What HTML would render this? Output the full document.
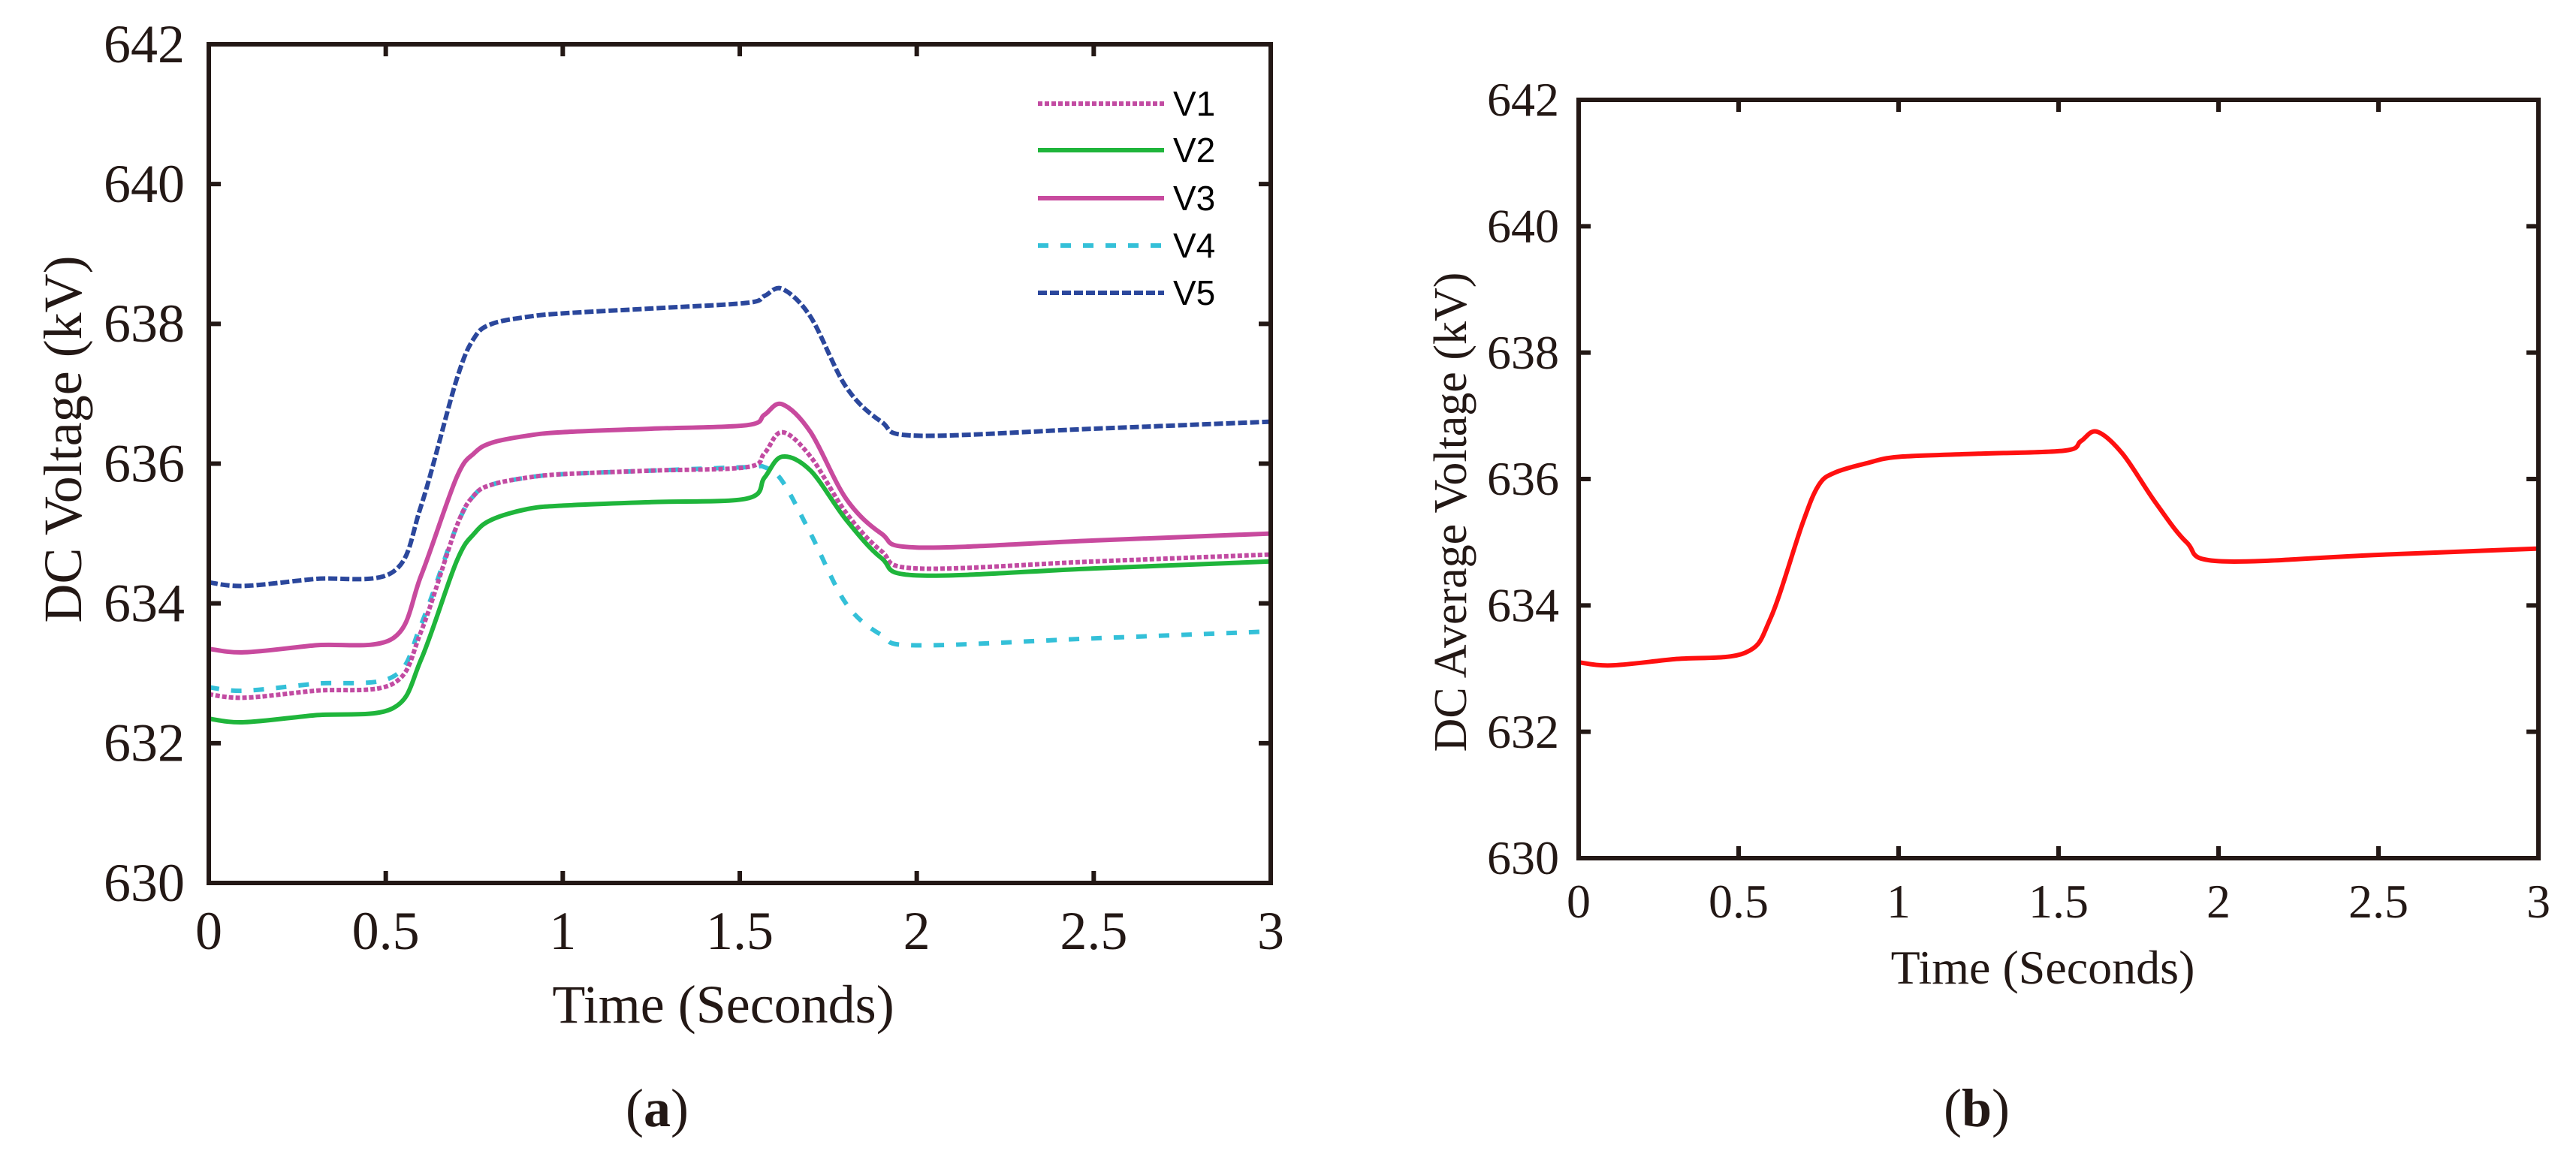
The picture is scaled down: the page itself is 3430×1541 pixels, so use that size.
<!DOCTYPE html>
<html><head><meta charset="utf-8"><style>
html,body{margin:0;padding:0;background:#fff;}
svg{display:block;}
text{font-family:"Liberation Serif",serif;fill:#231815;}
</style></head><body>
<svg id="root" width="3430" height="1541" viewBox="0 0 3430 1541" xmlns="http://www.w3.org/2000/svg">
<g id="ga"></g>
<g id="gb"></g>
</svg>
<script>
const timesA = [0,0.1,0.3,0.52,0.6,0.7,0.75,0.8,0.9,1,1.25,1.52,1.57,1.62,1.7,1.8,1.9,2,2.5,3];
const v1 = [632.7,632.65,632.75,632.85,633.6,635.1,635.55,635.7,635.8,635.85,635.9,635.95,636.15,636.45,636.1,635.3,634.75,634.5,634.6,634.7];
const v2 = [632.35,632.3,632.4,632.5,633.2,634.6,635.0,635.2,635.35,635.4,635.45,635.5,635.8,636.1,635.9,635.2,634.65,634.4,634.5,634.6];
const v3 = [633.35,633.3,633.4,633.5,634.4,635.8,636.15,636.3,636.4,636.45,636.5,636.55,636.7,636.85,636.45,635.5,635.0,634.8,634.9,635.0];
const v4 = [632.8,632.75,632.85,632.95,633.7,635.1,635.55,635.7,635.8,635.85,635.9,635.95,635.95,635.75,635.0,634.0,633.55,633.4,633.5,633.6];
const v5 = [634.3,634.25,634.35,634.45,635.4,637.2,637.8,638.0,638.1,638.15,638.22,638.3,638.4,638.5,638.1,637.1,636.6,636.4,636.5,636.6];
const timesB = [0,0.1,0.3,0.52,0.6,0.7,0.75,0.8,0.9,1,1.25,1.52,1.57,1.62,1.7,1.8,1.9,2,2.5,3];
const vAvg = [633.1,633.05,633.15,633.25,633.8,635.3,635.9,636.1,636.25,636.35,636.4,636.45,636.6,636.75,636.4,635.65,635.0,634.7,634.8,634.9];
const xTicks = [0,0.5,1,1.5,2,2.5,3];
const xTickLabels = ["0","0.5","1","1.5","2","2.5","3"];
const yTicks = [630,632,634,636,638,640,642];
const yTickLabels = ["630","632","634","636","638","640","642"];
const seriesNames = ["V1","V2","V3","V4","V5"];

const NS="http://www.w3.org/2000/svg";
function mk(parent,tag,attrs,txt){const e=document.createElementNS(NS,tag);for(const k in attrs)e.setAttribute(k,attrs[k]);if(txt!==undefined)e.textContent=txt;parent.appendChild(e);return e;}
function smoothPath(pts){let d="M"+pts[0][0].toFixed(1)+","+pts[0][1].toFixed(1);
 for(let i=0;i<pts.length-1;i++){const p0=pts[i-1]||pts[i],p1=pts[i],p2=pts[i+1],p3=pts[i+2]||p2;
  const c1=[p1[0]+(p2[0]-p0[0])/6,p1[1]+(p2[1]-p0[1])/6],c2=[p2[0]-(p3[0]-p1[0])/6,p2[1]-(p3[1]-p1[1])/6];
  d+=" C"+c1[0].toFixed(1)+","+c1[1].toFixed(1)+" "+c2[0].toFixed(1)+","+c2[1].toFixed(1)+" "+p2[0].toFixed(1)+","+p2[1].toFixed(1);}
 return d;}

function axes(g,L,R,T,B,fs,labGap,xLabY){
 const sx=t=>L+(t-0)/3*(R-L), sy=v=>B-(v-630)/12*(B-T);
 xTicks.forEach((t,i)=>{const x=sx(t);
  const tk=mk(g,"path",{d:`M${x},${B} v-16 M${x},${T} v16`,stroke:"#231815","stroke-width":6});
  
  
  const lb=mk(g,"text",{x:x,y:xLabY,"font-size":fs,"text-anchor":"middle"},xTickLabels[i]);
  
  
 });
 yTicks.forEach((v,i)=>{const y=sy(v);
  const tk=mk(g,"path",{d:`M${L},${y} h16 M${R},${y} h-16`,stroke:"#231815","stroke-width":6});
  
  
  const lb=mk(g,"text",{x:L-labGap,y:y+fs*0.33,"font-size":fs,"text-anchor":"end"},yTickLabels[i]);
  
  
 });
 return {sx,sy};
}
function frame(g,L,R,T,B){const f=mk(g,"rect",{x:L,y:T,width:R-L,height:B-T,fill:"none",stroke:"#231815","stroke-width":6});
 
 }

// Chart A
const ga=document.getElementById("ga");
const A={L:278,R:1692,T:59,B:1176};
const sa=axes(ga,A.L,A.R,A.T,A.B,72,32,1264);
const styles=[
 {c:"#c24ba2",dash:"6,3"},{c:"#1fb53b",dash:""},{c:"#c84a9e",dash:""},{c:"#34c0d8",dash:"14,16"},{c:"#2b479c",dash:"12,4"}];
const seriesA=[v1,v2,v3,v4,v5];
const drawOrder=[4,3,0,2,1];
drawOrder.forEach(si=>{const pts=timesA.map((t,i)=>[sa.sx(t),sa.sy(seriesA[si][i])]);
 const p=mk(ga,"path",{d:smoothPath(pts),fill:"none",stroke:styles[si].c,"stroke-width":6,"stroke-dasharray":styles[si].dash});
 
 
});
frame(ga,A.L,A.R,A.T,A.B);
const legend=mk(ga,"g",{});


const legY=[138,200,264,327,390];
seriesNames.forEach((n,i)=>{const e=mk(legend,"g",{});
 
 
 mk(e,"line",{x1:1382,x2:1550,y1:legY[i],y2:legY[i],stroke:styles[i].c,"stroke-width":6,"stroke-dasharray":styles[i].dash});
 mk(e,"text",{x:1562,y:legY[i]+16,"font-size":46,style:'font-family:"Liberation Sans",sans-serif;fill:#000'},n);
});
let t=mk(ga,"text",{x:963,y:1362,"font-size":72,"text-anchor":"middle"},"Time (Seconds)");


t=mk(ga,"text",{x:0,y:0,"font-size":72,"text-anchor":"middle",transform:"translate(108,585) rotate(-90)"},"DC Voltage (kV)");


t=mk(ga,"text",{x:875,y:1500,"font-size":72,"text-anchor":"middle"});
t.innerHTML='(<tspan font-weight="bold">a</tspan>)';



// Chart B
const gb=document.getElementById("gb");
const Bx={L:2102,R:3380,T:133,B:1143};
const sb=axes(gb,Bx.L,Bx.R,Bx.T,Bx.B,64,26,1222);
const pb=mk(gb,"path",{d:smoothPath(timesB.map((tt,i)=>[sb.sx(tt),sb.sy(vAvg[i])])),fill:"none",stroke:"#ff1010","stroke-width":6});


frame(gb,Bx.L,Bx.R,Bx.T,Bx.B);
t=mk(gb,"text",{x:2720,y:1310,"font-size":64,"text-anchor":"middle"},"Time (Seconds)");


t=mk(gb,"text",{x:0,y:0,"font-size":62,"text-anchor":"middle",transform:"translate(1952,682) rotate(-90)"},"DC Average Voltage (kV)");


t=mk(gb,"text",{x:2632,y:1500,"font-size":72,"text-anchor":"middle"});
t.innerHTML='(<tspan font-weight="bold">b</tspan>)';


</script>
</body></html>
